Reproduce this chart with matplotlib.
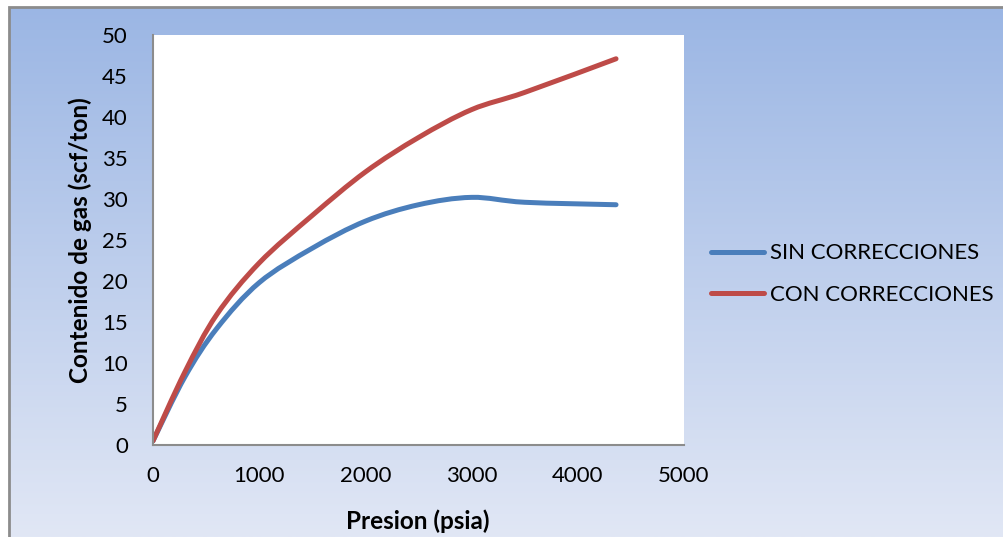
import numpy as np
import matplotlib.pyplot as plt
from matplotlib.path import Path
from matplotlib.patches import PathPatch, Rectangle
from matplotlib.lines import Line2D

plt.rcParams['font.family'] = ['Lato', 'DejaVu Sans']

# datos
presion = [0, 300, 600, 1000, 1500, 2000, 2500, 3000, 3500, 4360]
sin_corr = [0.5, 8.3, 14.2, 19.8, 24.0, 27.3, 29.3, 30.2, 29.6, 29.3]
con_corr = [0.5, 8.9, 15.9, 22.2, 28.0, 33.3, 37.5, 40.9, 43.0, 47.1]
series_names = ['SIN CORRECCIONES', 'CON CORRECCIONES']
series_colors = ['#4A7EBB', '#BE4B48']
x_ticks = [0, 1000, 2000, 3000, 4000, 5000]
y_ticks = [0, 5, 10, 15, 20, 25, 30, 35, 40, 45, 50]


def smooth_path(xs, ys):
    """Curva suave tipo Excel (Bezier por tramos)"""
    pts = np.column_stack([xs, ys]).astype(float)
    n = len(pts)
    verts = [pts[0]]
    codes = [Path.MOVETO]
    for i in range(n - 1):
        p0 = pts[i - 1] if i > 0 else pts[i]
        p1 = pts[i]
        p2 = pts[i + 1]
        p3 = pts[i + 2] if i + 2 < n else pts[i + 1]
        c1 = p1 + (p2 - p0) / 6.0
        c2 = p2 - (p3 - p1) / 6.0
        verts += [c1, c2, p2]
        codes += [Path.CURVE4] * 3
    return Path(verts, codes)


fig = plt.figure(figsize=(10.04, 5.37), dpi=100)

# fondo degradado
bg = fig.add_axes([9 / 1004, 0, 1 - 9 / 1004, 1 - 7 / 537], zorder=-10)
grad = np.linspace(0, 1, 256).reshape(-1, 1)
top = np.array([155, 182, 228]) / 255.0
bot = np.array([225, 231, 245]) / 255.0
img = top + (bot - top) * grad[..., None]
bg.imshow(img.reshape(256, 1, 3), aspect='auto', extent=[0, 1, 0, 1])
bg.set_axis_off()
fig.patches.append(Rectangle((9 / 1004, -0.1), 1.2, 1.1 - 7 / 537,
                             transform=fig.transFigure, fill=False,
                             edgecolor='#8C8C8C', linewidth=2, zorder=-5))

ax = fig.add_axes([153 / 1004, 1 - 445 / 537, (684 - 153) / 1004, (445 - 35) / 537])
ax.set_facecolor('white')

for ys, col in zip([sin_corr, con_corr], series_colors):
    patch = PathPatch(smooth_path(presion, ys), fill=False, edgecolor=col,
                      linewidth=3.6, capstyle='round', joinstyle='round')
    ax.add_patch(patch)

ax.set_xlim(0, 5000)
ax.set_ylim(0, 50)
ax.set_xticks(x_ticks)
ax.set_yticks(y_ticks)
ax.tick_params(length=0, labelsize=16)
ax.tick_params(axis='x', pad=15)
ax.tick_params(axis='y', pad=18)
for s in ['top', 'right']:
    ax.spines[s].set_visible(False)
for s in ['left', 'bottom']:
    ax.spines[s].set_color('#8C8C8C')
    ax.spines[s].set_linewidth(1.5)

ax.set_xlabel('Presion (psia)', fontsize=17.5, fontweight='bold')
ax.set_ylabel('Contenido de gas (scf/ton)', fontsize=17.5, fontweight='bold')
ax.xaxis.set_label_coords(0.499, -0.158)
ax.yaxis.set_label_coords(-0.115, 0.5)

handles = [Line2D([], [], color=c, linewidth=3.6, solid_capstyle='round')
           for c in series_colors]
ax.legend(handles, series_names, loc='center left', bbox_to_anchor=(1.013, 0.417),
          frameon=False, fontsize=16, handlelength=2.4, handletextpad=0.25,
          labelspacing=0.95)

fig.savefig('out.png', dpi=100)
